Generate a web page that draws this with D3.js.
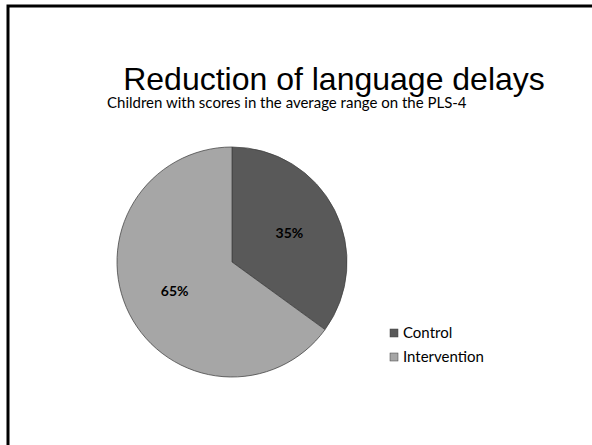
<!DOCTYPE html>
<html>
<head>
<meta charset="utf-8">
<script src="https://cdn.jsdelivr.net/npm/d3@7"></script>
<style>
  body { margin: 0; background: #fff; }
  svg { display: block; }
</style>
</head>
<body>
<script>
// chart values
const categories = ["Control", "Intervention"];
const values = [35, 65];
const valueLabels = ["35%", "65%"];
const colors = ["#595959", "#a6a6a6"];

const width = 592, height = 445;
const cx = 232, cy = 262, radius = 115;

const svg = d3.select("body").append("svg")
  .attr("width", width)
  .attr("height", height);

// slide frame (top and left edges)
svg.append("path")
  .attr("d", "M8,446 L8,6 L600,6")
  .attr("fill", "none")
  .attr("stroke", "#000")
  .attr("stroke-width", 3);

// titles
svg.append("text")
  .attr("x", 334)
  .attr("y", 90)
  .attr("text-anchor", "middle")
  .style("font-family", "'Liberation Sans', Arial, sans-serif")
  .style("font-size", "32px")
  .style("fill", "#000")
  .text("Reduction of language delays");

svg.append("text")
  .attr("x", 107)
  .attr("y", 108)
  .style("font-family", "Lato, 'Open Sans', sans-serif")
  .style("font-size", "15px")
  .style("fill", "#000")
  .text("Children with scores in the average range on the PLS-4");

// pie
const pie = d3.pie().sort(null).value(d => d);
const arcs = pie(values);
const arc = d3.arc().innerRadius(0).outerRadius(radius);
const labelArc = d3.arc().innerRadius(radius * 0.56).outerRadius(radius * 0.56);

const g = svg.append("g").attr("transform", "translate(" + cx + "," + cy + ")");

g.selectAll(".slice")
  .data(arcs)
  .enter().append("path")
    .attr("class", "slice")
    .attr("d", arc)
    .attr("fill", (d, i) => colors[i])
    .attr("stroke", "#404040")
    .attr("stroke-width", 0.75);

g.selectAll(".lbl")
  .data(arcs)
  .enter().append("text")
    .attr("class", "lbl")
    .attr("transform", d => "translate(" + labelArc.centroid(d) + ")")
    .attr("text-anchor", "middle")
    .attr("dy", "0.35em")
    .style("font-family", "Lato, 'Open Sans', sans-serif")
    .style("font-weight", "bold")
    .style("font-size", "14px")
    .style("fill", "#000")
    .text((d, i) => valueLabels[i]);

// legend
const legend = svg.append("g").attr("transform", "translate(390,329)");
const item = legend.selectAll(".item")
  .data(categories)
  .enter().append("g")
    .attr("class", "item")
    .attr("transform", (d, i) => "translate(0," + i * 24 + ")");

item.append("rect")
  .attr("width", 8)
  .attr("height", 8)
  .attr("fill", (d, i) => colors[i])
  .attr("stroke", "#404040")
  .attr("stroke-width", 0.5);

item.append("text")
  .attr("x", 13)
  .attr("y", 8.5)
  .style("font-family", "Lato, 'Open Sans', sans-serif")
  .style("font-size", "15px")
  .style("fill", "#000")
  .text(d => d);
</script>
</body>
</html>
